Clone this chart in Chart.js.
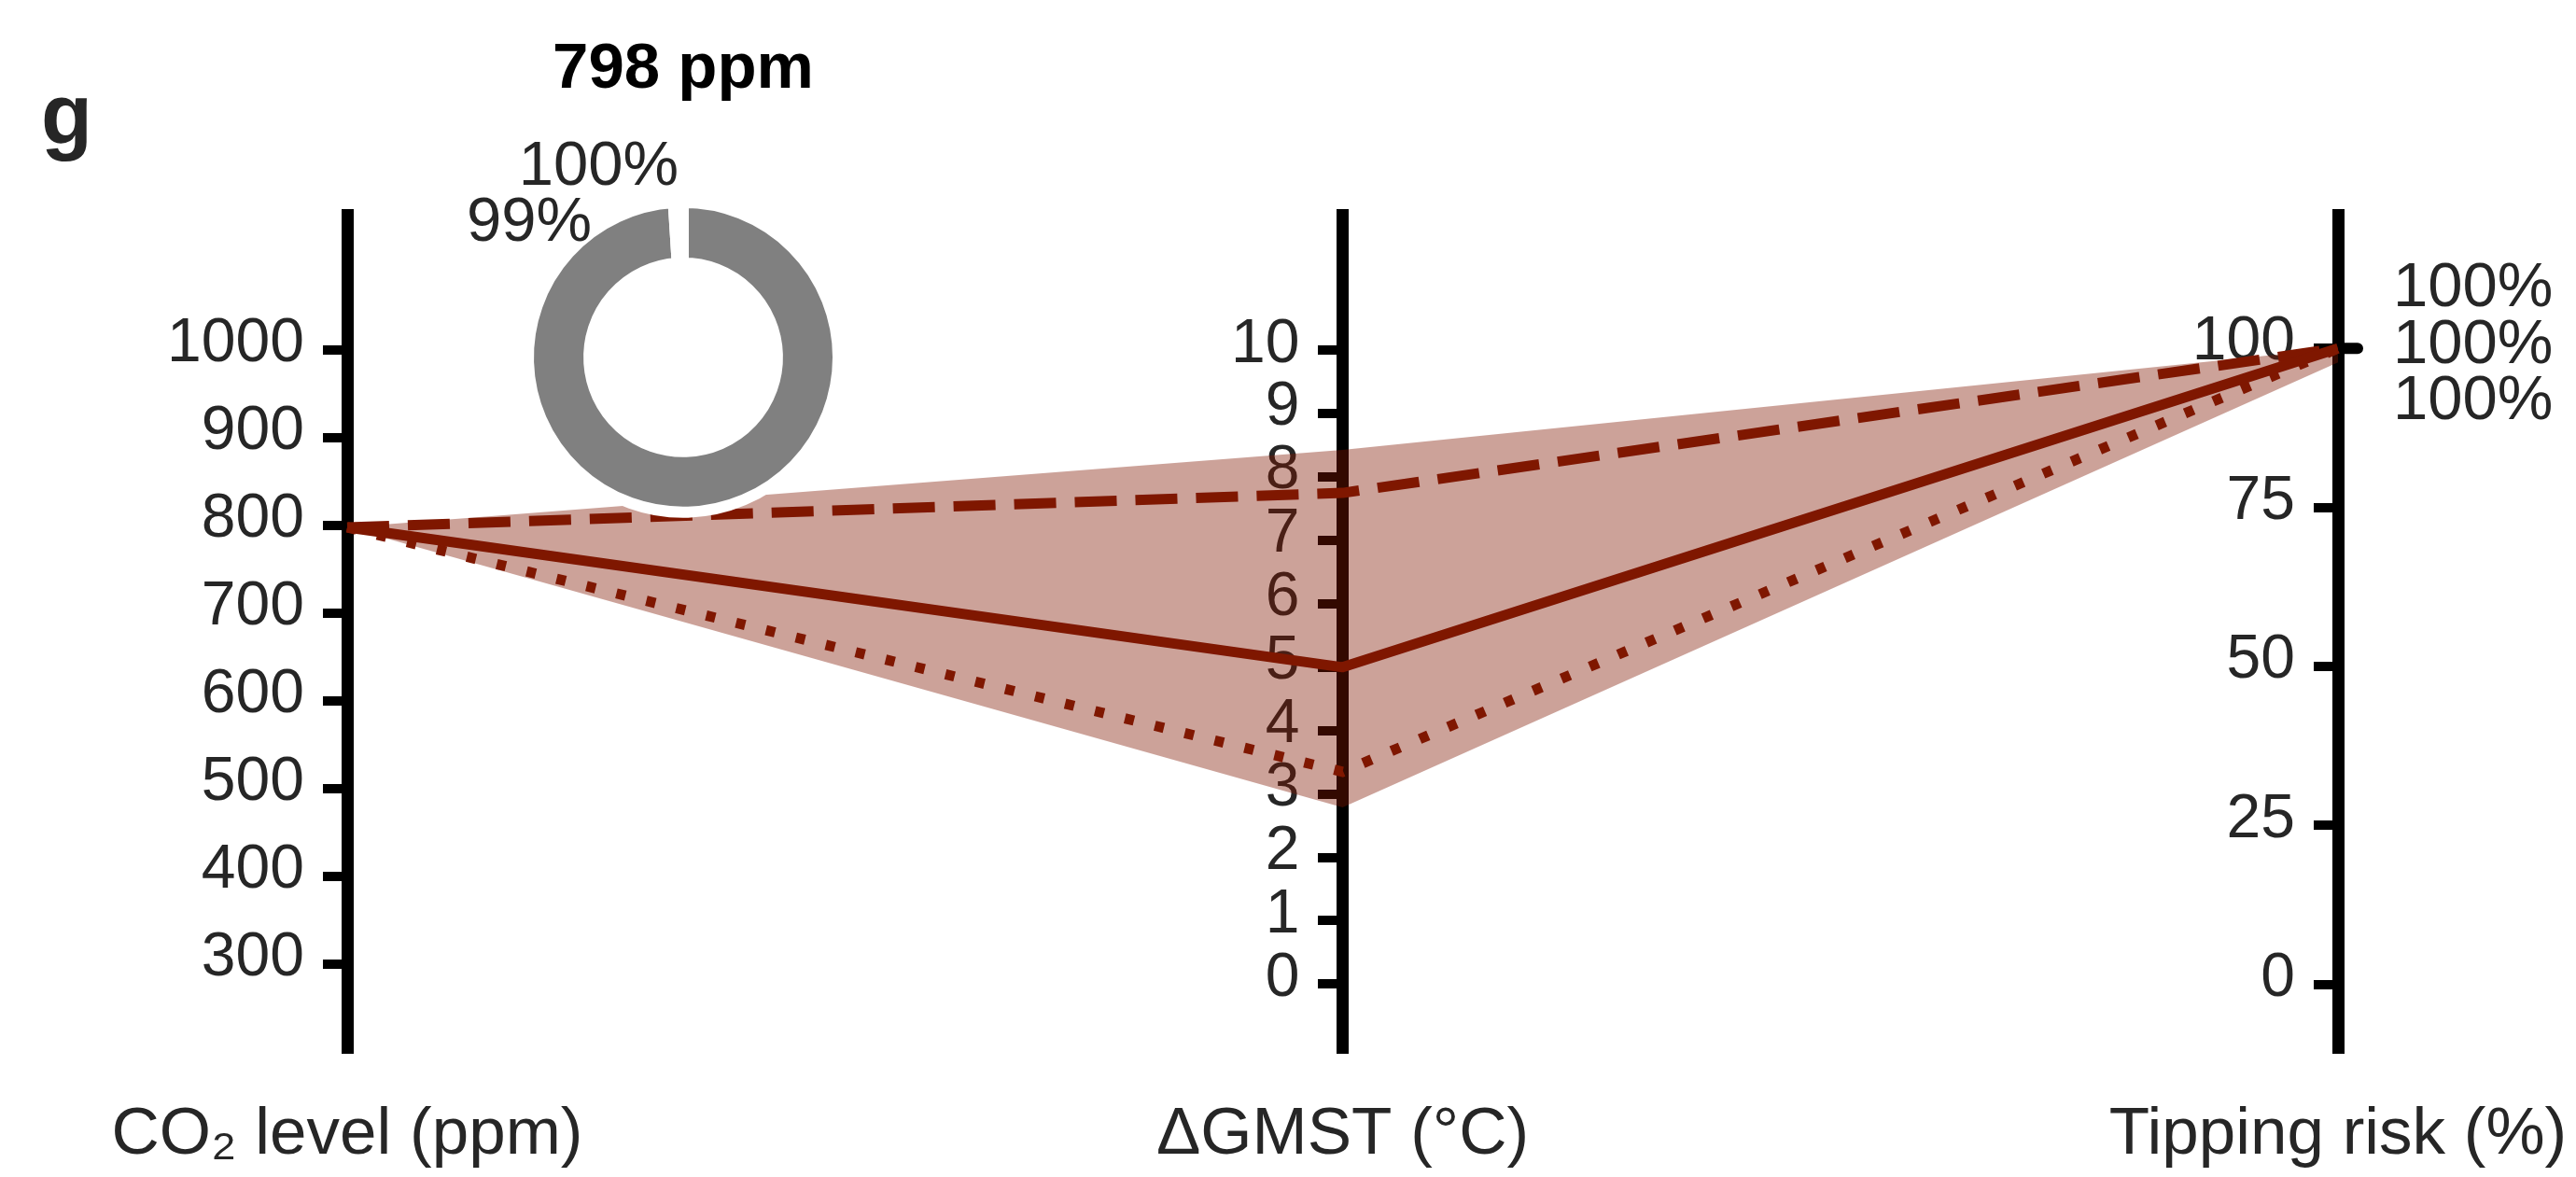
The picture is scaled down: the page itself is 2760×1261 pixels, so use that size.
<!DOCTYPE html>
<html>
<head>
<meta charset="utf-8">
<title>Tipping risk g</title>
<script src="https://cdn.jsdelivr.net/npm/chart.js"></script>
<style>
  body { margin: 0; background: #fff; overflow: hidden; }
  #wrap { position: relative; width: 2760px; height: 1261px; }
  #main { position: absolute; left: 0; top: 0; }
  #donut { position: absolute; left: 432px; top: 0; }
  #tag { position: absolute; left: 44px; top: 78px; font: bold 90px "Liberation Sans", Arial, sans-serif; line-height: 1; color: #262626; }
</style>
</head>
<body>
<div id="wrap">
  <canvas id="main" width="2760" height="1261"></canvas>
  <canvas id="donut" width="600" height="700"></canvas>
  <div id="tag">g</div>
</div>
<script>
// three parallel axes
const categories = ['CO\u2082 level (ppm)', '\u0394GMST (\u00b0C)', 'Tipping risk (%)'];
const axisMin = [202.6, -1.025, -10.15];
const axisMax = [1154.7, 12.14, 121.0];
const co2Ticks = [300, 400, 500, 600, 700, 800, 900, 1000];
const gmstTicks = [0, 1, 2, 3, 4, 5, 6, 7, 8, 9, 10];
const riskTicks = [0, 25, 50, 75, 100];

// series (one value per axis)
const medianLine = [798, 5.0, 100];
const highLine = [798, 7.75, 100];
const lowLine = [798, 3.35, 100];
const bandTop = [798, 8.43, 100];
const bandBottom = [798, 2.79, 97.8];
const riskLabels = ['100%', '100%', '100%']; // dashed, solid, dotted

// donut
const donutTitle = '798 ppm';
const donutValues = [99, 1];
const donutLabels = ['100%', '99%'];

const red = '#7f1700';
const bandFill = 'rgba(128, 23, 0, 0.4)';
const textCol = '#262626';
const fam = '"Liberation Sans", Arial, sans-serif';
const labelGap = 0.0432; // tick labels sit a bit left of each axis (x units)

Chart.defaults.font.family = fam;
Chart.defaults.color = textCol;

// each axis has its own range, so put everything on a 0..1 scale
const norm = (v, i) => (v - axisMin[i]) / (axisMax[i] - axisMin[i]);

// axis line + tick marks
function lineAxis(i, ticks) {
  return {
    type: 'linear', axis: 'y', position: { x: i },
    min: axisMin[i], max: axisMax[i], z: 1,
    afterBuildTicks: s => { s.ticks = ticks.map(v => ({ value: v })); },
    grid: { display: true, drawOnChartArea: false, drawTicks: true, tickLength: 20, tickWidth: 10, tickColor: '#000', color: '#000', lineWidth: 10 },
    border: { display: true, width: 13, color: '#000' },
    ticks: { color: 'rgba(0,0,0,0)', callback: v => String(v) }
  };
}

// tick labels only
function labelAxis(i, ticks) {
  return {
    type: 'linear', axis: 'y', position: { x: i - labelGap },
    min: axisMin[i], max: axisMax[i], z: 1,
    afterBuildTicks: s => { s.ticks = ticks.map(v => ({ value: v })); },
    grid: { display: false },
    border: { display: false },
    ticks: { font: { size: 66 }, color: textCol, labelOffset: -6, callback: v => String(v) }
  };
}

const endLabels = {
  id: 'endLabels',
  afterDraw(chart) {
    const ctx = chart.ctx;
    const x = chart.scales.x.getPixelForValue(2);
    const series = [highLine, medianLine, lowLine];
    const shift = [-64, -3, 57];
    ctx.save();
    const y0 = chart.scales.yn.getPixelForValue(norm(medianLine[2], 2));
    ctx.strokeStyle = '#000';
    ctx.lineWidth = 12;
    ctx.lineCap = 'round';
    ctx.beginPath();
    ctx.moveTo(x + 6, y0);
    ctx.lineTo(x + 21, y0);
    ctx.stroke();
    ctx.font = '67px ' + fam;
    ctx.fillStyle = textCol;
    ctx.textAlign = 'left';
    ctx.textBaseline = 'middle';
    series.forEach((s, k) => {
      const y = chart.scales.yn.getPixelForValue(norm(s[2], 2));
      ctx.fillText(riskLabels[k], x + 59, y + shift[k]);
    });
    ctx.restore();
  }
};

new Chart(document.getElementById('main'), {
  type: 'line',
  data: {
    labels: categories,
    datasets: [
      { data: medianLine.map(norm), borderColor: red, borderWidth: 11, pointRadius: 0, fill: false, borderJoinStyle: 'round', yAxisID: 'yn' },
      { data: highLine.map(norm), borderColor: red, borderWidth: 11, borderDash: [45, 20], pointRadius: 0, fill: false, yAxisID: 'yn' },
      { data: lowLine.map(norm), borderColor: red, borderWidth: 11, borderDash: [10, 23], pointRadius: 0, fill: false, yAxisID: 'yn' },
      { data: bandTop.map(norm), borderColor: 'rgba(0,0,0,0)', borderWidth: 0, pointRadius: 0, fill: '+1', backgroundColor: bandFill, yAxisID: 'yn' },
      { data: bandBottom.map(norm), borderColor: 'rgba(0,0,0,0)', borderWidth: 0, pointRadius: 0, fill: false, yAxisID: 'yn' }
    ]
  },
  options: {
    responsive: false,
    animation: false,
    layout: { padding: { left: 372, right: 255, top: 230, bottom: -47 } },
    plugins: { legend: { display: false }, tooltip: { enabled: false } },
    scales: {
      x: {
        type: 'category',
        offset: false,
        grid: { display: false, drawTicks: false },
        border: { display: false },
        ticks: { font: { size: 71, lineHeight: 176 / 71 }, color: textCol, padding: 4, maxRotation: 0, autoSkip: false }
      },
      yn: { type: 'linear', display: false, min: 0, max: 1 },
      y0: lineAxis(0, co2Ticks),
      y1: lineAxis(1, gmstTicks),
      y2: lineAxis(2, riskTicks),
      yl0: labelAxis(0, co2Ticks),
      yl1: labelAxis(1, gmstTicks),
      yl2: labelAxis(2, riskTicks)
    }
  },
  plugins: [endLabels]
});

const donutText = {
  id: 'donutText',
  afterDraw(chart) {
    const arc = chart.getDatasetMeta(0).data[0];
    const ctx = chart.ctx;
    ctx.save();
    ctx.font = '67px ' + fam;
    ctx.fillStyle = textCol;
    ctx.textAlign = 'right';
    ctx.textBaseline = 'middle';
    ctx.fillText(donutLabels[0], arc.x - 5, arc.y - 203);
    ctx.fillText(donutLabels[1], arc.x - 98, arc.y - 143);
    ctx.restore();
  }
};

new Chart(document.getElementById('donut'), {
  type: 'doughnut',
  data: {
    labels: donutLabels,
    datasets: [{
      data: donutValues,
      backgroundColor: ['#808080', '#808080'],
      borderColor: '#ffffff',
      borderWidth: 12,
      offset: 0,
      hoverOffset: 0
    }]
  },
  options: {
    responsive: false,
    animation: false,
    radius: 166,
    cutout: '60.8%',
    layout: { padding: { top: 0, bottom: 60.8, left: 0, right: 0 } },
    plugins: {
      legend: { display: false },
      tooltip: { enabled: false },
      title: { display: true, text: donutTitle, color: '#000', font: { size: 69, weight: 'bold' }, padding: { top: 33.6, bottom: 10 } }
    }
  },
  plugins: [donutText]
});
</script>
</body>
</html>
